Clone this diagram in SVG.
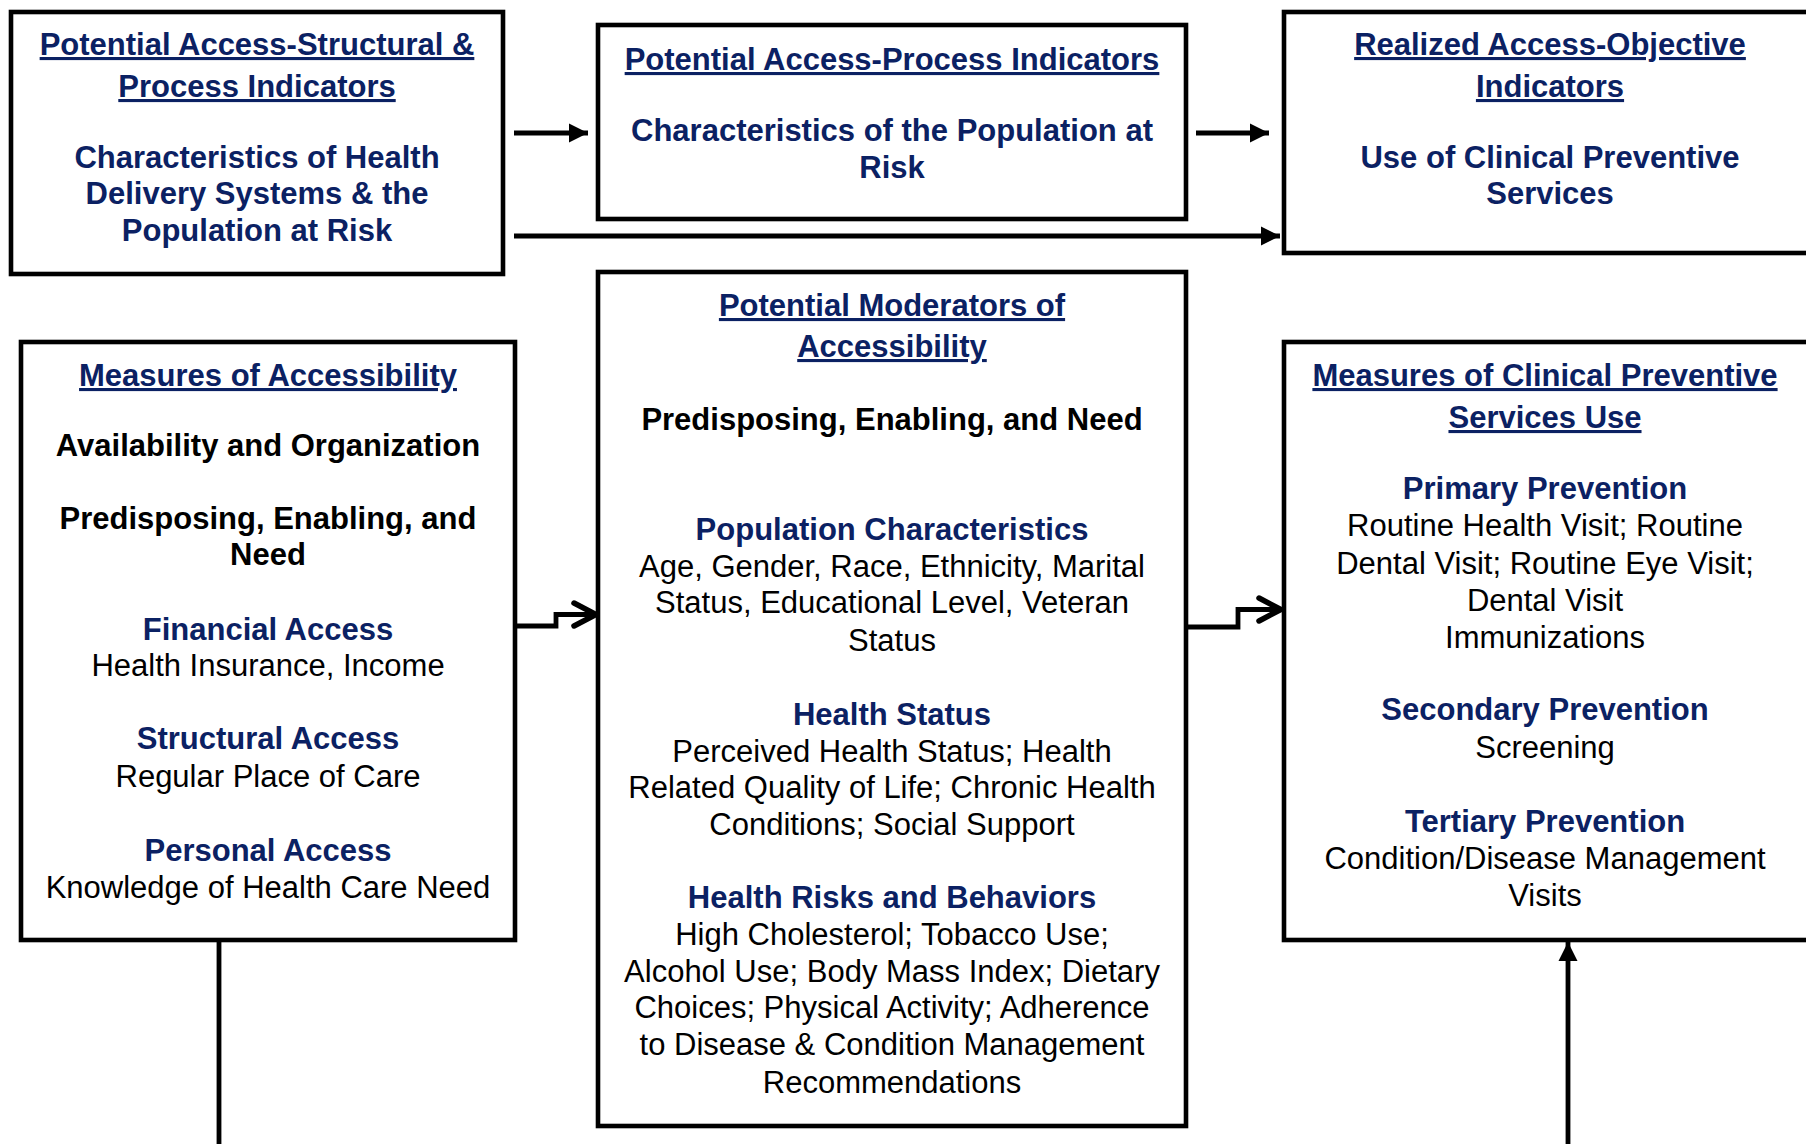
<svg xmlns="http://www.w3.org/2000/svg" width="1806" height="1144" viewBox="0 0 1806 1144">
<defs>
<style>
.box{fill:#fff;stroke:#000;stroke-width:4.6}
text{font-family:"Liberation Sans",Arial,sans-serif;font-size:31px;text-anchor:middle}
.h{font-weight:bold;fill:#0b2163}
.u{text-decoration:underline}
.k{font-weight:bold;fill:#000}
.n{fill:#000}
.ln{fill:none;stroke:#000;stroke-width:4.8}
.chev{fill:none;stroke:#000;stroke-width:5.5;stroke-linecap:round;stroke-linejoin:miter}
</style>
<marker id="tri" viewBox="0 0 10 10" refX="10" refY="5" markerWidth="4" markerHeight="4.2" orient="auto" markerUnits="strokeWidth">
<path d="M0,0 L10,5 L0,10 Z" fill="#000"/>
</marker>
</defs>
<rect width="1806" height="1144" fill="#fff"/>

<g id="connectors">
<line class="ln" x1="514" y1="133" x2="588" y2="133" marker-end="url(#tri)"/>
<line class="ln" x1="1196" y1="133" x2="1269" y2="133" marker-end="url(#tri)"/>
<line class="ln" x1="514" y1="236" x2="1280" y2="236" marker-end="url(#tri)"/>
<polyline class="ln" points="515,626 556,626 556,614.5 594,614.5"/>
<polyline class="chev" points="574,603 596,614.5 574,626"/>
<polyline class="ln" points="1186,627 1238,627 1238,609.5 1278,609.5"/>
<polyline class="chev" points="1259,598 1281,609.5 1259,621"/>
<line class="ln" x1="219" y1="940" x2="219" y2="1150"/>
<line class="ln" x1="1568" y1="1150" x2="1568" y2="942" marker-end="url(#tri)"/>
</g>

<g id="node-structural">
<rect class="box" x="11" y="12" width="492" height="262"/>
<text class="h u" x="257" y="55">Potential Access-Structural &amp;</text>
<text class="h u" x="257" y="97">Process Indicators</text>
<text class="h" x="257" y="168">Characteristics of Health</text>
<text class="h" x="257" y="204">Delivery Systems &amp; the</text>
<text class="h" x="257" y="241">Population at Risk</text>
</g>

<g id="node-process">
<rect class="box" x="598" y="25" width="588" height="194"/>
<text class="h u" x="892" y="70">Potential Access-Process Indicators</text>
<text class="h" x="892" y="141">Characteristics of the Population at</text>
<text class="h" x="892" y="178">Risk</text>
</g>

<g id="node-realized">
<rect class="box" x="1284" y="12" width="560" height="241"/>
<text class="h u" x="1550" y="55">Realized Access-Objective</text>
<text class="h u" x="1550" y="97">Indicators</text>
<text class="h" x="1550" y="168">Use of Clinical Preventive</text>
<text class="h" x="1550" y="204">Services</text>
</g>

<g id="node-accessibility">
<rect class="box" x="21" y="342" width="494" height="598"/>
<text class="h u" x="268" y="386">Measures of Accessibility</text>
<text class="k" x="268" y="456">Availability and Organization</text>
<text class="k" x="268" y="529">Predisposing, Enabling, and</text>
<text class="k" x="268" y="565">Need</text>
<text class="h" x="268" y="640">Financial Access</text>
<text class="n" x="268" y="676">Health Insurance, Income</text>
<text class="h" x="268" y="749">Structural Access</text>
<text class="n" x="268" y="787">Regular Place of Care</text>
<text class="h" x="268" y="861">Personal Access</text>
<text class="n" x="268" y="898">Knowledge of Health Care Need</text>
</g>

<g id="node-moderators">
<rect class="box" x="598" y="272" width="588" height="854"/>
<text class="h u" x="892" y="316">Potential Moderators of</text>
<text class="h u" x="892" y="357">Accessibility</text>
<text class="k" x="892" y="430">Predisposing, Enabling, and Need</text>
<text class="h" x="892" y="540">Population Characteristics</text>
<text class="n" x="892" y="577">Age, Gender, Race, Ethnicity, Marital</text>
<text class="n" x="892" y="613">Status, Educational Level, Veteran</text>
<text class="n" x="892" y="651">Status</text>
<text class="h" x="892" y="725">Health Status</text>
<text class="n" x="892" y="762">Perceived Health Status; Health</text>
<text class="n" x="892" y="798">Related Quality of Life; Chronic Health</text>
<text class="n" x="892" y="835">Conditions; Social Support</text>
<text class="h" x="892" y="908">Health Risks and Behaviors</text>
<text class="n" x="892" y="945">High Cholesterol; Tobacco Use;</text>
<text class="n" x="892" y="982">Alcohol Use; Body Mass Index; Dietary</text>
<text class="n" x="892" y="1018">Choices; Physical Activity; Adherence</text>
<text class="n" x="892" y="1055">to Disease &amp; Condition Management</text>
<text class="n" x="892" y="1093">Recommendations</text>
</g>

<g id="node-clinical">
<rect class="box" x="1284" y="342" width="560" height="598"/>
<text class="h u" x="1545" y="386">Measures of Clinical Preventive</text>
<text class="h u" x="1545" y="428">Services Use</text>
<text class="h" x="1545" y="499">Primary Prevention</text>
<text class="n" x="1545" y="536">Routine Health Visit; Routine</text>
<text class="n" x="1545" y="574">Dental Visit; Routine Eye Visit;</text>
<text class="n" x="1545" y="611">Dental Visit</text>
<text class="n" x="1545" y="648">Immunizations</text>
<text class="h" x="1545" y="720">Secondary Prevention</text>
<text class="n" x="1545" y="758">Screening</text>
<text class="h" x="1545" y="832">Tertiary Prevention</text>
<text class="n" x="1545" y="869">Condition/Disease Management</text>
<text class="n" x="1545" y="906">Visits</text>
</g>
</svg>
